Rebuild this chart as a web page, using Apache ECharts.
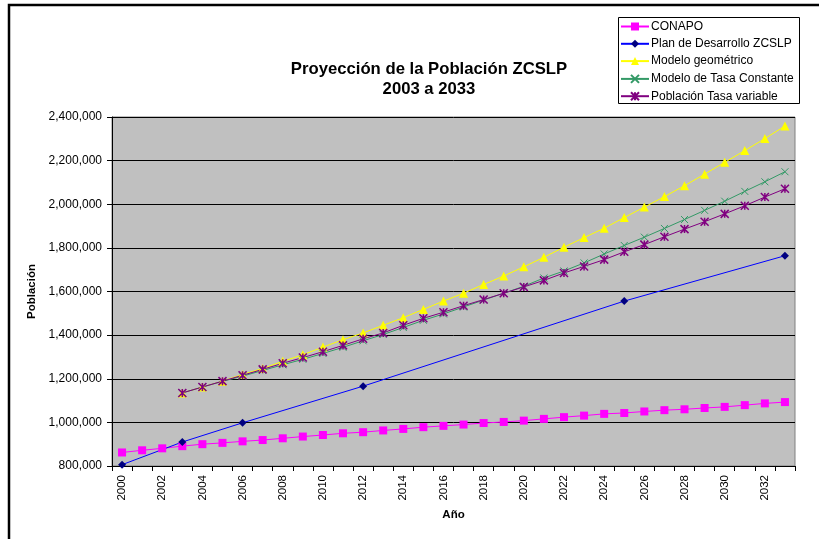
<!DOCTYPE html>
<html>
<head>
<meta charset="utf-8">
<script src="https://cdn.jsdelivr.net/npm/echarts@6/dist/echarts.min.js"></script>
<style>
    html, body { margin: 0; padding: 0; background: #ffffff; }
    #chart_div { width: 819px; height: 539px; }
</style>
</head>
<body>
<div id="chart_div"></div>
<script>
// años 2000 - 2033
var years = [];
for (var y = 2000; y <= 2033; y++) { years.push(String(y)); }

// valores
var conapo = [862000, 872000, 881000, 891000, 900000, 906000, 913000, 919000, 927000, 935000,
    942000, 950000, 955000, 963000, 970000, 978000, 984000, 990000, 997000, 1002000,
    1008000, 1016000, 1024000, 1031000, 1039000, 1043000, 1050000, 1056000, 1060000, 1066000,
    1071000, 1079000, 1087000, 1093000];

var plan_desarrollo = [806000, null, null, 910000, null, null, 998000, null, null, null,
    null, null, 1166000, null, null, null, null, null, null, null,
    null, null, null, null, null, 1556000, null, null, null, null,
    null, null, null, 1764000];

var modelo_geometrico = [null, null, null, 1135000, 1162000, 1189000, 1220000, 1247000, 1280000, 1310000,
    1345000, 1379000, 1410000, 1445000, 1480000, 1518000, 1556000, 1592000, 1632000, 1671000,
    1713000, 1757000, 1803000, 1847000, 1890000, 1939000, 1987000, 2035000, 2085000, 2138000,
    2192000, 2246000, 2301000, 2359000];

var tasa_constante = [null, null, null, 1135000, 1162000, 1188000, 1212000, 1238000, 1264000, 1289000,
    1316000, 1344000, 1374000, 1403000, 1435000, 1468000, 1497000, 1529000, 1561000, 1592000,
    1624000, 1662000, 1694000, 1731000, 1772000, 1811000, 1849000, 1889000, 1930000, 1972000,
    2014000, 2059000, 2103000, 2149000];

var tasa_variable = [null, null, null, 1135000, 1162000, 1189000, 1216000, 1243000, 1271000, 1297000,
    1324000, 1353000, 1383000, 1410000, 1445000, 1477000, 1505000, 1535000, 1563000, 1592000,
    1621000, 1651000, 1685000, 1715000, 1746000, 1782000, 1815000, 1851000, 1886000, 1920000,
    1956000, 1993000, 2033000, 2071000];

var series_names = ['CONAPO', 'Plan de Desarrollo ZCSLP', 'Modelo geométrico', 'Modelo de Tasa Constante', 'Población Tasa variable'];
var y_ticks = [800000, 1000000, 1200000, 1400000, 1600000, 1800000, 2000000, 2200000, 2400000];

var font = '"Liberation Sans", Arial, sans-serif';
var myChart = echarts.init(document.getElementById('chart_div'));

// una leyenda por renglon, para controlar el espaciado
var legends = [];
for (var i = 0; i < series_names.length; i++) {
    legends.push({
        left: 620,
        top: 20.5 + i * 17.3,
        padding: 0,
        itemWidth: 28,
        itemHeight: 10,
        selectedMode: false,
        textStyle: { fontFamily: font, fontSize: 12, color: '#000', padding: [0, 0, 0, -3] },
        data: [series_names[i]]
    });
}

var option = {
    animation: false,
    textStyle: { fontFamily: font },
    title: {
        text: 'Proyección de la Población ZCSLP\n2003 a 2033',
        left: 424,
        top: 55,
        textAlign: 'center',
        textStyle: { fontFamily: font, fontSize: 16.7, fontWeight: 'bold', color: '#000', lineHeight: 19.5 }
    },
    legend: legends,
    graphic: [{
        type: 'rect',
        shape: { x: 9, y: 5, width: 900, height: 700 },
        style: { fill: 'none', stroke: '#000', lineWidth: 2.5 },
        silent: true
    }, {
        type: 'rect',
        shape: { x: 618.5, y: 17.5, width: 181, height: 86 },
        style: { fill: '#fff', stroke: '#000', lineWidth: 1 },
        z: -1,
        silent: true
    }],
    grid: {
        left: 112, right: 24, top: 117, bottom: 73,
        show: true,
        backgroundColor: '#C0C0C0',
        borderColor: '#808080',
        borderWidth: 1
    },
    xAxis: {
        type: 'category',
        data: years,
        boundaryGap: true,
        name: 'Año',
        nameLocation: 'middle',
        nameGap: 40,
        nameTextStyle: { fontFamily: font, fontSize: 11.5, fontWeight: 'bold', color: '#000' },
        axisLine: { lineStyle: { color: '#000', width: 1 } },
        axisTick: { show: true, interval: 0, alignWithLabel: false, length: 5, lineStyle: { color: '#000' } },
        axisLabel: { interval: 1, rotate: 90, fontFamily: font, fontSize: 11.5, color: '#000', margin: 9 },
        splitLine: { show: false }
    },
    yAxis: {
        type: 'value',
        min: y_ticks[0],
        max: y_ticks[y_ticks.length - 1],
        interval: 200000,
        name: 'Población',
        nameLocation: 'middle',
        nameRotate: 90,
        nameGap: 73,
        nameTextStyle: { fontFamily: font, fontSize: 11.5, fontWeight: 'bold', color: '#000' },
        axisLine: { show: true, lineStyle: { color: '#000', width: 1 } },
        axisTick: { show: true, length: 5, lineStyle: { color: '#000' } },
        axisLabel: {
            fontFamily: font, fontSize: 12, color: '#000', margin: 10,
            formatter: function (v) { return v.toLocaleString('en-US'); }
        },
        splitLine: { show: true, lineStyle: { color: '#000', width: 1 } }
    },
    series: [
        {
            name: series_names[0],
            type: 'line',
            data: conapo,
            symbol: 'rect',
            symbolSize: 8,
            lineStyle: { color: '#FF00FF', width: 1 },
            itemStyle: { color: '#FF00FF' }
        },
        {
            name: series_names[1],
            type: 'line',
            data: plan_desarrollo,
            connectNulls: true,
            symbol: 'diamond',
            symbolSize: 8,
            lineStyle: { color: '#0000FF', width: 1 },
            itemStyle: { color: '#000080' }
        },
        {
            name: series_names[2],
            type: 'line',
            data: modelo_geometrico,
            symbol: 'triangle',
            symbolSize: 9,
            lineStyle: { color: '#FFFF00', width: 1 },
            itemStyle: { color: '#FFFF00' }
        },
        {
            name: series_names[3],
            type: 'line',
            data: tasa_constante,
            symbol: 'path://M0,0L10,10M10,0L0,10',
            symbolSize: 7,
            lineStyle: { color: '#339966', width: 1 },
            itemStyle: { color: 'none', borderColor: '#339966', borderWidth: 1 }
        },
        {
            name: series_names[4],
            type: 'line',
            data: tasa_variable,
            symbol: 'path://M0,0L10,10M10,0L0,10M5,0L5,10',
            symbolSize: 8,
            lineStyle: { color: '#800080', width: 1 },
            itemStyle: { color: 'none', borderColor: '#800080', borderWidth: 1.5 }
        }
    ]
};
myChart.setOption(option);
</script>
</body>
</html>
